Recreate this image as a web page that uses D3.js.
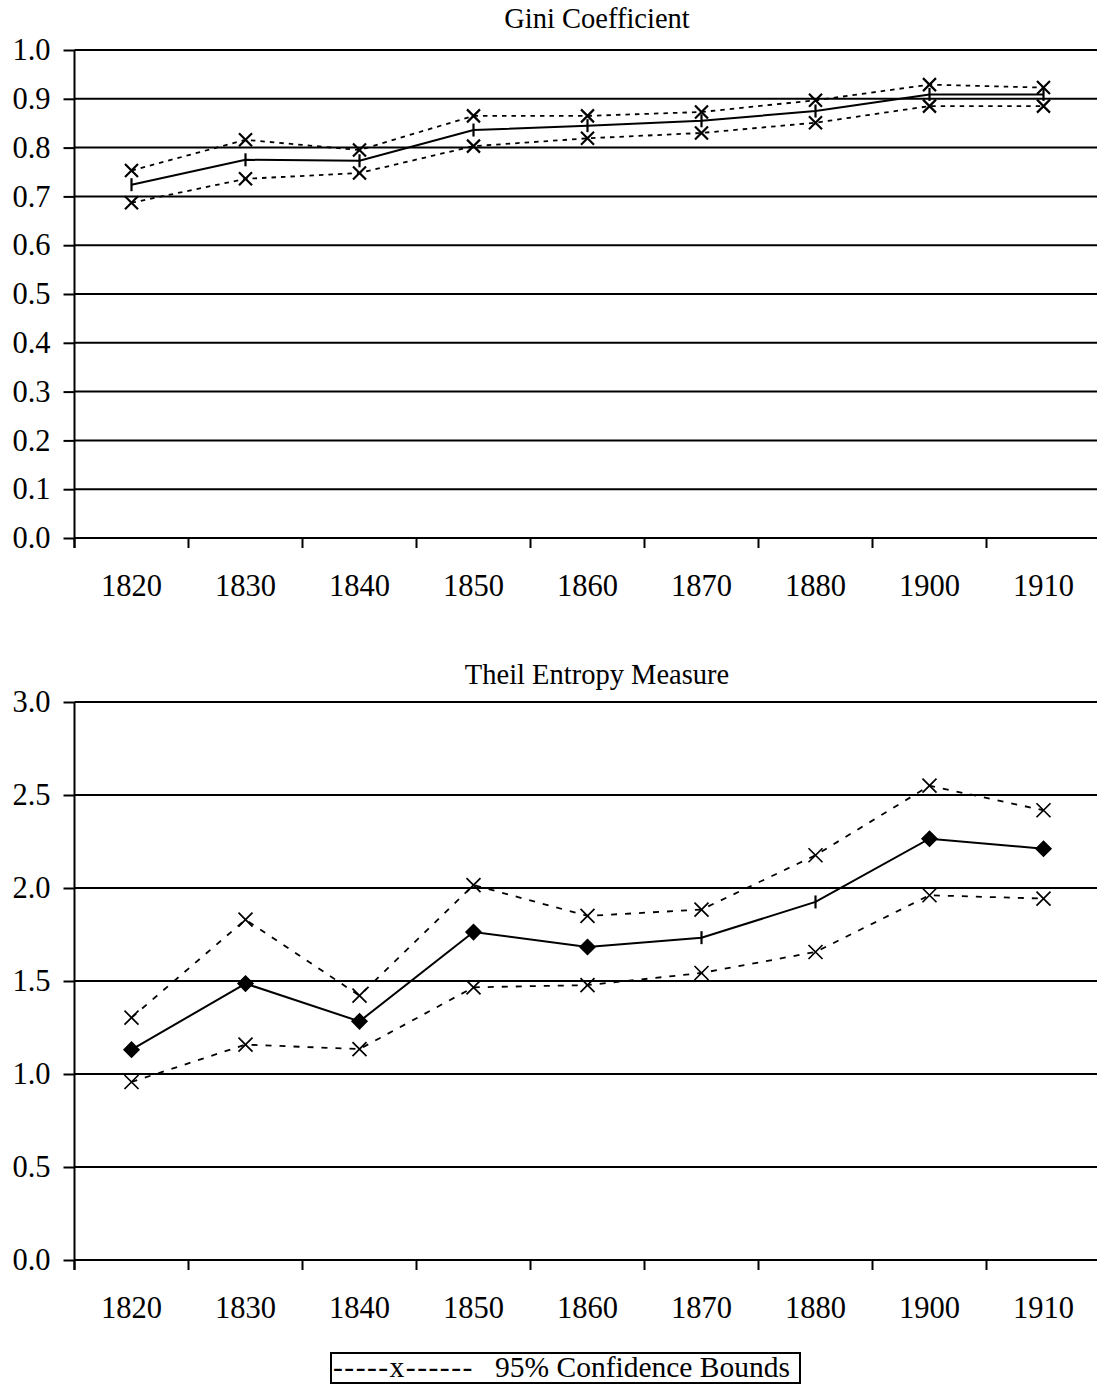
<!DOCTYPE html>
<html>
<head>
<meta charset="utf-8">
<script src="https://cdn.jsdelivr.net/npm/d3@7"></script>
<style>
  html, body { margin: 0; padding: 0; background: #fff; }
  svg { display: block; font-family: "Liberation Serif", "Times New Roman", serif; }
</style>
</head>
<body>
<svg id="chart" width="1097" height="1391"></svg>
<script>
// ---- Data ----
const categories = ["1820", "1830", "1840", "1850", "1860", "1870", "1880", "1900", "1910"];

const giniUpper = [0.753, 0.816, 0.795, 0.865, 0.865, 0.873, 0.897, 0.929, 0.923];
const giniMain  = [0.724, 0.775, 0.773, 0.836, 0.845, 0.855, 0.875, 0.909, 0.909];
const giniLower = [0.687, 0.736, 0.748, 0.803, 0.819, 0.830, 0.851, 0.885, 0.885];

const theilUpper = [1.303, 1.830, 1.421, 2.016, 1.850, 1.884, 2.176, 2.550, 2.418];
const theilMain  = [1.131, 1.486, 1.283, 1.763, 1.683, 1.733, 1.925, 2.265, 2.211];
const theilLower = [0.957, 1.158, 1.134, 1.466, 1.478, 1.543, 1.656, 1.961, 1.943];

// years where the Theil main series shows a dash marker instead of a diamond
const theilDashYears = ["1870", "1880"];

const giniTicks  = [0, 0.1, 0.2, 0.3, 0.4, 0.5, 0.6, 0.7, 0.8, 0.9, 1.0];
const theilTicks = [0, 0.5, 1.0, 1.5, 2.0, 2.5, 3.0];

const giniTitle = "Gini Coefficient";
const theilTitle = "Theil Entropy Measure";
const legendDashText = "-----x------";
const legendLabel = "95% Confidence Bounds";

// ---- Drawing ----
const svg = d3.select("#chart");
const FONT = 30.5;

function drawPanel(opts) {
  const { top, bottom, domainMax, ticks, upper, main, lower, title, titleY,
          mainMarker, dash, xSize, xStroke } = opts;
  const left = 74.5, right = 1100.5;
  const g = svg.append("g");

  const x = d3.scaleBand().domain(categories).range([left, right]);
  const y = d3.scaleLinear().domain([0, domainMax]).range([bottom, top]);
  const cx = d => x(d) + x.bandwidth() / 2;

  // gridlines
  g.append("g").selectAll("line").data(ticks).join("line")
    .attr("x1", left).attr("x2", right)
    .attr("y1", d => y(d)).attr("y2", d => y(d))
    .attr("stroke", "#000").attr("stroke-width", 2);

  // y axis
  const yAxis = g.append("g").attr("transform", `translate(${left},0)`)
    .call(d3.axisLeft(y).tickValues(ticks).tickFormat(d3.format(".1f"))
      .tickSize(11).tickSizeOuter(0).tickPadding(13));
  yAxis.select(".domain").remove();
  yAxis.selectAll(".tick line").attr("stroke", "#000").attr("stroke-width", 2);
  yAxis.selectAll("text").attr("font-size", FONT).attr("fill", "#000")
    .attr("font-family", "Liberation Serif, Times New Roman, serif");

  // vertical axis line (extends below the category axis)
  g.append("line").attr("x1", left).attr("x2", left)
    .attr("y1", y(domainMax)).attr("y2", bottom + 10)
    .attr("stroke", "#000").attr("stroke-width", 2);

  // x axis labels
  const xAxis = g.append("g").attr("transform", `translate(0,${bottom})`)
    .call(d3.axisBottom(x).tickSize(0).tickPadding(36));
  xAxis.select(".domain").remove();
  xAxis.selectAll("text").attr("font-size", FONT).attr("fill", "#000")
    .attr("font-family", "Liberation Serif, Times New Roman, serif");

  // x ticks at category boundaries
  const bounds = categories.map(d => x(d)).concat([x(categories[categories.length - 1]) + x.step()]);
  g.append("g").selectAll("line").data(bounds).join("line")
    .attr("x1", d => d).attr("x2", d => d)
    .attr("y1", bottom).attr("y2", bottom + 10)
    .attr("stroke", "#000").attr("stroke-width", 2);

  // title
  g.append("text").attr("x", 597).attr("y", titleY)
    .attr("text-anchor", "middle").attr("font-size", 28.5).attr("fill", "#000")
    .text(title);

  const line = d3.line().x((d, i) => cx(categories[i])).y(d => y(d));

  // dashed bounds
  [upper, lower].forEach(series => {
    g.append("path").datum(series).attr("d", line)
      .attr("fill", "none").attr("stroke", "#000").attr("stroke-width", 1.8)
      .attr("stroke-dasharray", dash);
    const s = xSize;
    g.append("g").selectAll("path").data(series).join("path")
      .attr("d", (d, i) => {
        const px = cx(categories[i]), py = y(d);
        return `M${px - s},${py - s}L${px + s},${py + s}M${px - s},${py + s}L${px + s},${py - s}`;
      })
      .attr("fill", "none").attr("stroke", "#000").attr("stroke-width", xStroke);
  });

  // main series
  g.append("path").datum(main).attr("d", line)
    .attr("fill", "none").attr("stroke", "#000").attr("stroke-width", 2);
  g.append("g").selectAll("path").data(main).join("path")
    .attr("d", (d, i) => {
      const px = cx(categories[i]), py = y(d);
      const kind = mainMarker(categories[i]);
      if (kind === "diamond") {
        const r = 7;
        return `M${px},${py - r}L${px + r},${py}L${px},${py + r}L${px - r},${py}Z`;
      }
      return `M${px},${py - 6.5}L${px},${py + 6.5}`;
    })
    .attr("fill", (d, i) => mainMarker(categories[i]) === "diamond" ? "#000" : "none")
    .attr("stroke", "#000").attr("stroke-width", 2.2);
}

drawPanel({
  top: 50, bottom: 538, domainMax: 1.0, ticks: giniTicks,
  upper: giniUpper, main: giniMain, lower: giniLower,
  title: giniTitle, titleY: 28,
  mainMarker: () => "dash", dash: "4.5,5", xSize: 6.5, xStroke: 2.2
});

drawPanel({
  top: 702, bottom: 1260, domainMax: 3.0, ticks: theilTicks,
  upper: theilUpper, main: theilMain, lower: theilLower,
  title: theilTitle, titleY: 684,
  mainMarker: c => theilDashYears.includes(c) ? "dash" : "diamond", dash: "6,8",
  xSize: 7, xStroke: 1.7
});

// legend
const lg = svg.append("g");
lg.append("rect").attr("x", 331).attr("y", 1353).attr("width", 469).attr("height", 30)
  .attr("fill", "none").attr("stroke", "#000").attr("stroke-width", 2);
lg.append("text").attr("x", 333).attr("y", 1377).attr("font-size", 29.5)
  .attr("letter-spacing", 1.5).attr("fill", "#000").text(legendDashText);
lg.append("text").attr("x", 495).attr("y", 1377).attr("font-size", 29.5)
  .attr("fill", "#000").text(legendLabel);
</script>
</body>
</html>
